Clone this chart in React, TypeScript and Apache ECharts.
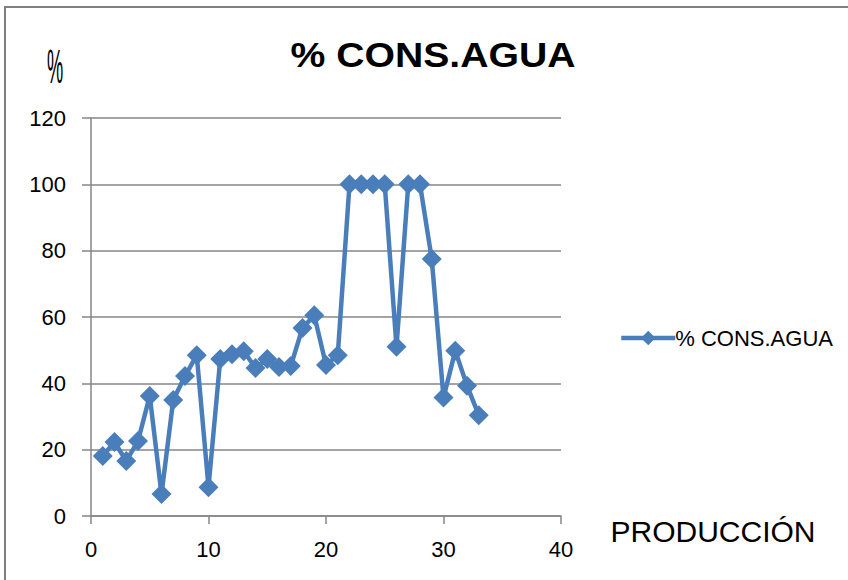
import React, { useEffect, useRef } from "react";
import * as echarts from "echarts";

const produccion = [1,2,3,4,5,6,7,8,9,10,11,12,13,14,15,16,17,18,19,20,21,22,23,24,25,26,27,28,29,30,31,32,33];
const consAgua = [18.1,22.3,16.6,22.6,36.2,6.6,35,42.2,48.5,8.7,47.3,48.8,49.7,44.6,47.3,44.9,45.2,56.7,60.5,45.5,48.5,100,100,100,100,51,100,100,77.5,35.7,49.8,39.3,30.4];
const seriesName = "% CONS.AGUA";
const titleText = "% CONS.AGUA";
const yName = "%";
const xName = "PRODUCCIÓN";

export default function App() {
  const ref = useRef<HTMLDivElement>(null);
  useEffect(() => {
    const chart = echarts.init(ref.current!, null, { renderer: "svg" });
    const font = "'Liberation Sans', Arial, sans-serif";
    chart.setOption({
      animation: false,
      backgroundColor: "#ffffff",
      legend: {
        data: [seriesName],
        left: 614,
        top: 322,
        itemWidth: 54,
        itemHeight: 18,
        itemGap: 4,
        lineStyle: { width: 4.5 },
        textStyle: { fontFamily: font, fontSize: 22, color: "#000", padding: [0, 0, 0, -5] },
      },
      grid: { left: 91, right: 287, top: 118, bottom: 64 },
      xAxis: {
        type: "value",
        min: 0,
        max: 40,
        interval: 10,
        axisLine: { show: true, lineStyle: { color: "#868686", width: 1.5 } },
        axisTick: { show: true, inside: false, length: 8, lineStyle: { color: "#868686", width: 1.5 } },
        axisLabel: { fontFamily: font, fontSize: 22, color: "#000", margin: 22 },
        splitLine: { show: false },
      },
      yAxis: {
        type: "value",
        min: 0,
        max: 120,
        interval: 20,
        axisLine: { show: true, lineStyle: { color: "#868686", width: 1.5 } },
        axisTick: { show: true, inside: false, length: 9, lineStyle: { color: "#868686", width: 1.5 } },
        axisLabel: { fontFamily: font, fontSize: 22, color: "#000", margin: 25 },
        splitLine: { show: true, lineStyle: { color: "#868686", width: 1.5 } },
      },
      series: [
        {
          name: seriesName,
          type: "line",
          data: produccion.map((x, i) => [x, consAgua[i]]),
          symbol: "diamond",
          symbolSize: 20,
          lineStyle: { color: "#4a7ebb", width: 4.5 },
          itemStyle: { color: "#4a7ebb" },
        },
      ],
      graphic: [
        {
          type: "rect",
          shape: { x: 5, y: 7, width: 900, height: 620 },
          style: { fill: "none", stroke: "#7f7f7f", lineWidth: 2 },
          silent: true,
        },
        {
          type: "text",
          x: 433,
          y: 55,
          scaleX: 1.12,
          style: { text: titleText, fontFamily: font, fontWeight: "bold", fontSize: 35, fill: "#000", align: "center", verticalAlign: "middle" },
        },
        {
          type: "text",
          x: 55,
          y: 66,
          scaleX: 0.38,
          style: { text: yName, fontFamily: font, fontSize: 48, fill: "#000", align: "center", verticalAlign: "middle" },
        },
        {
          type: "text",
          x: 713,
          y: 531,
          style: { text: xName, fontFamily: font, fontSize: 30, fill: "#000", align: "center", verticalAlign: "middle" },
        },
      ],
    });
    return () => chart.dispose();
  }, []);
  return <div ref={ref} style={{ position: "absolute", left: 0, top: 0, width: 848, height: 580 }} />;
}
